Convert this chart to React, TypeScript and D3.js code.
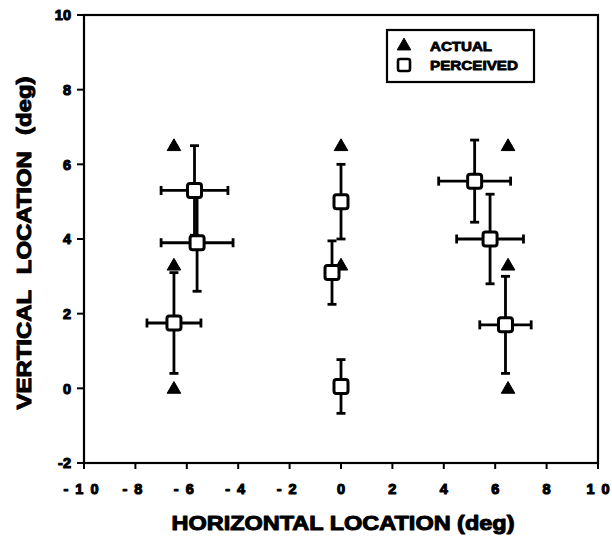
import React from "react";
import * as d3 from "d3";

// actual target locations (deg)
const actualX = [-6.5, -6.5, -6.5, 0, 0, 0, 6.5, 6.5, 6.5];
const actualY = [6.5, 3.3, 0, 6.5, 3.3, 0, 6.5, 3.3, 0];

// perceived locations with +/- error (deg)
const perceivedX = [-5.7, -5.6, -6.5, 0, -0.35, 0, 5.2, 5.8, 6.4];
const perceivedY = [5.3, 3.9, 1.75, 5.0, 3.1, 0.05, 5.55, 4.0, 1.7];
const xErr = [1.3, 1.4, 1.05, 0, 0, 0, 1.4, 1.3, 1.0];
const yErr = [1.2, 1.3, 1.35, 1.0, 0.85, 0.72, 1.1, 1.2, 1.3];

const xTicks = [-10, -8, -6, -4, -2, 0, 2, 4, 6, 8, 10];
const yTicks = [-2, 0, 2, 4, 6, 8, 10];

const W = 612;
const H = 538;
const margin = { top: 15, right: 14, bottom: 75, left: 84 };

const font = "'Liberation Sans', Arial, sans-serif";

// "-10" -> "- 1 0", as typeset in the original
const spaced = (t: number) => String(t).split("").join(" ");

const App = () => {
  const x = d3
    .scaleLinear()
    .domain([-10, 10])
    .range([margin.left, W - margin.right]);
  const y = d3
    .scaleLinear()
    .domain([-2, 10])
    .range([H - margin.bottom, margin.top]);

  const tri = d3.symbol().type(d3.symbolTriangle).size(80);
  const cap = 4.5;
  const sq = 7;

  return (
    <svg
      width={W}
      height={H}
      style={{ position: "absolute", left: 0, top: 0, background: "#fff" }}
      fontFamily={font}
      fontWeight="bold"
    >
      {/* frame */}
      <rect
        x={x(-10)}
        y={y(10)}
        width={x(10) - x(-10)}
        height={y(-2) - y(10)}
        fill="none"
        stroke="#000"
        strokeWidth={2.2}
      />

      {/* y axis ticks */}
      {yTicks.map((t) => (
        <g key={"y" + t}>
          <line x1={x(-10) - 7} x2={x(-10)} y1={y(t)} y2={y(t)} stroke="#000" strokeWidth={2} />
          <text
            x={x(-10) - 13}
            y={y(t)}
            dy="0.36em"
            textAnchor="end"
            fontSize={14.5}
            fill="#000"
            stroke="#000"
            strokeWidth={1.1}
            strokeLinejoin="round"
          >
            {t}
          </text>
        </g>
      ))}

      {/* x axis ticks */}
      {xTicks.map((t) => (
        <g key={"x" + t}>
          <line x1={x(t)} x2={x(t)} y1={y(-2)} y2={y(-2) + 6} stroke="#000" strokeWidth={2} />
          <text
            x={x(t) + (t < 0 ? -3 : 0)}
            y={y(-2) + 31}
            textAnchor="middle"
            fontSize={14.5}
            fill="#000"
            stroke="#000"
            strokeWidth={1.1}
            strokeLinejoin="round"
            xmlSpace="preserve"
            wordSpacing={3}
          >
            {spaced(t)}
          </text>
        </g>
      ))}

      {/* axis titles */}
      <text
        x={343}
        y={530}
        textAnchor="middle"
        fontSize={20}
        stroke="#000"
        strokeWidth={1}
        strokeLinejoin="round"
        textLength={343}
        lengthAdjust="spacingAndGlyphs"
      >
        HORIZONTAL LOCATION (deg)
      </text>
      <text
        transform={`translate(31, 243) rotate(-90)`}
        textAnchor="middle"
        fontSize={20}
        stroke="#000"
        strokeWidth={1}
        strokeLinejoin="round"
        textLength={333}
        lengthAdjust="spacingAndGlyphs"
        wordSpacing={8}
      >
        VERTICAL LOCATION (deg)
      </text>

      {/* actual */}
      {actualX.map((v, i) => (
        <path
          key={"a" + i}
          d={tri() as string}
          transform={`translate(${x(v)},${y(actualY[i]) + 1})`}
          fill="#000"
          stroke="#000"
          strokeWidth={1}
          strokeLinejoin="round"
        />
      ))}

      {/* perceived error bars */}
      {perceivedX.map((v, i) => {
        const cx = x(v);
        const cy = y(perceivedY[i]);
        const x0 = x(v - xErr[i]);
        const x1 = x(v + xErr[i]);
        const y0 = y(perceivedY[i] - yErr[i]);
        const y1 = y(perceivedY[i] + yErr[i]);
        return (
          <g key={"e" + i} stroke="#000" strokeWidth={2.8}>
            <line x1={cx} x2={cx} y1={y0} y2={y1} />
            <line x1={cx - cap} x2={cx + cap} y1={y0} y2={y0} />
            <line x1={cx - cap} x2={cx + cap} y1={y1} y2={y1} />
            {xErr[i] > 0 && (
              <>
                <line x1={x0} x2={x1} y1={cy} y2={cy} />
                <line x1={x0} x2={x0} y1={cy - cap} y2={cy + cap} />
                <line x1={x1} x2={x1} y1={cy - cap} y2={cy + cap} />
              </>
            )}
          </g>
        );
      })}

      {/* perceived squares */}
      {perceivedX.map((v, i) => (
        <rect
          key={"p" + i}
          x={x(v) - sq}
          y={y(perceivedY[i]) - sq}
          width={sq * 2}
          height={sq * 2}
          rx={2.5}
          fill="#fff"
          stroke="#000"
          strokeWidth={3}
        />
      ))}

      {/* legend */}
      <rect x={387} y={30} width={147} height={52} fill="#fff" stroke="#000" strokeWidth={2.2} />
      <path
        d={tri() as string}
        transform="translate(404,46)"
        fill="#000"
        stroke="#000"
        strokeWidth={1}
        strokeLinejoin="round"
      />
      <rect x={398} y={59} width={12} height={12} rx={2} fill="#fff" stroke="#000" strokeWidth={2.6} />
      <text x={430} y={51} fontSize={13} stroke="#000" strokeWidth={0.8} strokeLinejoin="round" textLength={62} lengthAdjust="spacingAndGlyphs">
        ACTUAL
      </text>
      <text x={430} y={70} fontSize={13} stroke="#000" strokeWidth={0.8} strokeLinejoin="round" textLength={88} lengthAdjust="spacingAndGlyphs">
        PERCEIVED
      </text>
    </svg>
  );
};

export default App;
